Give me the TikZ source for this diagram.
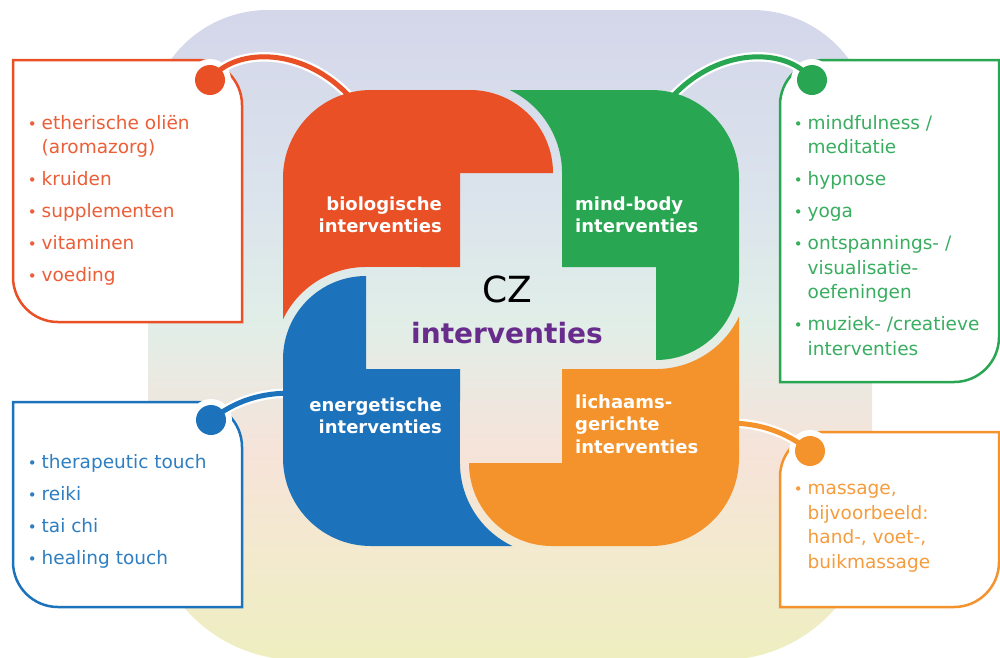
\documentclass[tikz,border=0pt]{standalone}
\usepackage{fontspec}
\setmainfont{DejaVu Sans}

\definecolor{bioRed}{RGB}{233,80,38}
\definecolor{mindGreen}{RGB}{40,166,82}
\definecolor{energyBlue}{RGB}{28,115,187}
\definecolor{bodyOrange}{RGB}{244,147,44}
\definecolor{czPurple}{RGB}{104,44,140}
\definecolor{bgTop}{RGB}{212,214,234}
\definecolor{bgUp}{RGB}{219,228,236}
\definecolor{bgMid}{RGB}{225,238,232}
\definecolor{bgPink}{RGB}{246,227,217}
\definecolor{bgLow}{RGB}{243,234,206}
\definecolor{bgBot}{RGB}{238,238,192}

\pgfdeclareverticalshading{bgshade}{100bp}{color(0bp)=(bgBot); color(25bp)=(bgBot);
  color(33bp)=(bgLow); color(41bp)=(bgPink); color(51bp)=(bgMid); color(60bp)=(bgUp);
  color(75bp)=(bgTop); color(100bp)=(bgTop)}

\newcommand{\bul}{\makebox[19pt][c]{\fontsize{15}{15}\selectfont\textbullet}}
\newcommand{\ind}{\hspace*{19pt}}

\begin{document}
\begin{tikzpicture}[x=1pt, y=-1pt,
  box/.style={draw=#1, line width=2.5pt, fill=white},
  link/.style={draw=#1, line width=5pt, preaction={draw=white, line width=9.5pt}},
  knob/.style={circle, inner sep=0pt, minimum size=30pt, fill=#1},
  plabel/.style={text=white, inner sep=0pt, font=\bfseries\fontsize{18}{22.5}\selectfont},
  itemlist/.style={text=#1!92!white, anchor=north west, align=left, inner sep=0pt,
    font=\fontsize{18.5}{24.5}\selectfont}]
\useasboundingbox (0,0) rectangle (1000,657);

% background
\shade[shading=bgshade] (148,130) arc[start angle=180, end angle=270, radius=120] -- (752,10)
  arc[start angle=270, end angle=360, radius=120] -- (872,510)
  arc[start angle=0, end angle=90, radius=150] -- (298,660)
  arc[start angle=90, end angle=180, radius=150] -- cycle;

% boxes
\draw[box=bioRed] (13,60) -- (197,60) arc[start angle=-90, end angle=0, radius=45] -- (242,322)
  -- (58,322) arc[start angle=90, end angle=180, radius=45] -- cycle;
\draw[box=mindGreen] (999,60) -- (825,60) arc[start angle=-90, end angle=-180, radius=45] -- (780,382)
  -- (954,382) arc[start angle=90, end angle=0, radius=45] -- cycle;
\draw[box=energyBlue] (13,402) -- (197,402) arc[start angle=-90, end angle=0, radius=45] -- (242,607)
  -- (58,607) arc[start angle=90, end angle=180, radius=45] -- cycle;
\draw[box=bodyOrange] (999,432) -- (825,432) arc[start angle=-90, end angle=-180, radius=45] -- (780,607)
  -- (954,607) arc[start angle=90, end angle=0, radius=45] -- cycle;

\coordinate (bioDot) at (210,80);
\coordinate (mindDot) at (812,80);
\coordinate (energyDot) at (211,420);
\coordinate (bodyDot) at (810,451);
\coordinate (bioTip) at (362,112);
\coordinate (mindTip) at (660,112);
\coordinate (energyTip) at (292,393);
\coordinate (bodyTip) at (728,423);

\foreach \d in {bioDot,mindDot,energyDot,bodyDot}
  \fill[white] (\d) circle[radius=21];

% connectors
\draw[link=bioRed] (bioDot) .. controls +(25,-35) and +(-47,-67) .. (bioTip);
\draw[link=mindGreen] (mindDot) .. controls +(-25,-35) and +(47,-67) .. (mindTip);
\draw[link=energyBlue] (energyDot) .. controls +(25,-20) and +(-30,0) .. (energyTip);
\draw[link=bodyOrange] (bodyDot) .. controls +(-25,-20) and +(30,0) .. (bodyTip);

\node[knob=bioRed] (bioKnob) at (bioDot) {};
\node[knob=mindGreen] (mindKnob) at (mindDot) {};
\node[knob=energyBlue] (energyKnob) at (energyDot) {};
\node[knob=bodyOrange] (bodyKnob) at (bodyDot) {};

% pinwheel
\begin{scope}[shift={(511,318)}, yscale=-1]
  \foreach \col/\ang in {bioRed/0, energyBlue/-90, bodyOrange/-180, mindGreen/-270}
    \fill[\col, rotate=\ang] (-51,51) -- (-51,145) -- (42,145)
      arc[start angle=0, end angle=90, radius=83] -- (-140,228)
      arc[start angle=90, end angle=180, radius=88] -- (-228,-1.3)
      arc[start angle=154.45, end angle=90, radius=92] -- cycle;
\end{scope}

\node[plabel, anchor=east, align=right] (bioLabel) at (442,215) {biologische\\interventies};
\node[plabel, anchor=east, align=right] (energyLabel) at (442,416) {energetische\\interventies};
\node[plabel, anchor=west, align=left] (mindLabel) at (575,215) {mind-body\\interventies};
\node[plabel, anchor=west, align=left] (bodyLabel) at (575,424) {lichaams-\\gerichte\\interventies};

\node[font=\fontsize{36}{36}\selectfont] (czTitle) at (507,289) {CZ};
\node[text=czPurple, font=\bfseries\fontsize{28}{28}\selectfont] (czSub) at (507,333) {interventies};

% lists
\node[itemlist=bioRed] (bioList) at (22.5,115) {\bul etherische oliën\\\ind(aromazorg)\\[7.5pt]\bul kruiden\\[7.5pt]\bul supplementen\\[7.5pt]\bul vitaminen\\[7.5pt]\bul voeding};
\node[itemlist=mindGreen] (mindList) at (788.5,115) {\bul mindfulness /\\\ind meditatie\\[7.5pt]\bul hypnose\\[7.5pt]\bul yoga\\[7.5pt]\bul ontspannings- /\\\ind visualisatie-\\\ind oefeningen\\[7.5pt]\bul muziek- /creatieve\\\ind interventies};
\node[itemlist=energyBlue] (energyList) at (22.5,454) {\bul therapeutic touch\\[7.5pt]\bul reiki\\[7.5pt]\bul tai chi\\[7.5pt]\bul healing touch};
\node[itemlist=bodyOrange] (bodyList) at (788.5,484) {\bul massage,\\\ind bijvoorbeeld:\\\ind hand-, voet-,\\\ind buikmassage};
\end{tikzpicture}
\end{document}
